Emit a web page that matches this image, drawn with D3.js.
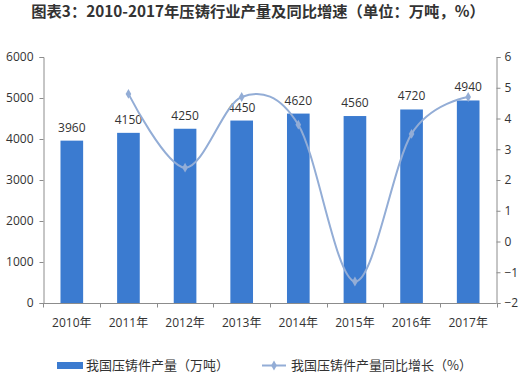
<!DOCTYPE html>
<html>
<head>
<meta charset="utf-8">
<script src="https://cdn.jsdelivr.net/npm/d3@7"></script>
<style>
  body { margin: 0; background: #fff; }
  svg text { font-family: "Open Sans", "Noto Sans CJK SC", sans-serif; fill: #333; }
</style>
</head>
<body>
<div id="chart"></div>
<script>
let years = ["2010年", "2011年", "2012年", "2013年", "2014年", "2015年", "2016年", "2017年"];
let output = [3960, 4150, 4250, 4450, 4620, 4560, 4720, 4940];
let growth = [null, 4.8, 2.4, 4.7, 3.8, -1.3, 3.5, 4.7];
let leftTicks = [0, 1000, 2000, 3000, 4000, 5000, 6000];
let rightTicks = [-2, -1, 0, 1, 2, 3, 4, 5, 6];

let width = 522, height = 377;
let plotLeft = 43.5, plotRight = 496.5, plotTop = 57, plotBottom = 303;
let barColor = "#3B7BD0";
let lineColor = "#93ADD6";
let axisColor = "#8c8c8c";

let svg = d3.select("#chart").append("svg")
    .attr("width", width)
    .attr("height", height);

svg.append("text")
    .attr("x", width / 2 - 3)
    .attr("y", 17)
    .attr("text-anchor", "middle")
    .style("font-size", "15.3px")
    .style("font-weight", "bold")
    .style("font-family", "'Noto Sans CJK SC', sans-serif")
    .text("图表3：2010-2017年压铸行业产量及同比增速（单位：万吨，%）");

let x = d3.scaleBand()
    .domain(years)
    .range([plotLeft, plotRight])
    .paddingInner(0.6)
    .paddingOuter(0.3);

let y = d3.scaleLinear().domain([0, 6000]).range([plotBottom, plotTop]);
let y2 = d3.scaleLinear().domain([-2, 6]).range([plotBottom, plotTop]);

// bars
svg.selectAll(".bar")
    .data(output)
    .enter().append("rect")
    .attr("class", "bar")
    .attr("x", (d, i) => x(years[i]))
    .attr("y", d => y(d))
    .attr("width", x.bandwidth())
    .attr("height", d => y(0) - y(d))
    .attr("fill", barColor);

svg.selectAll(".bar-label")
    .data(output)
    .enter().append("text")
    .attr("class", "bar-label")
    .attr("x", (d, i) => x(years[i]) + x.bandwidth() / 2)
    .attr("y", d => y(d) - 9)
    .attr("text-anchor", "middle")
    .style("font-size", "12px")
    .text(d => d);

// left axis
let leftAxis = svg.append("g")
    .attr("transform", "translate(" + plotLeft + ",0)")
    .call(d3.axisLeft(y).tickValues(leftTicks).tickFormat(d3.format("d")).tickSize(4).tickPadding(6));
leftAxis.selectAll("text").style("font-size", "12px");

// right axis
let rightAxis = svg.append("g")
    .attr("transform", "translate(" + plotRight + ",0)")
    .call(d3.axisRight(y2).tickValues(rightTicks).tickFormat(d3.format("d")).tickSize(4).tickPadding(4));
rightAxis.selectAll("text").style("font-size", "12px");

// bottom axis with ticks between categories
let bottomAxis = svg.append("g")
    .attr("transform", "translate(0," + (plotBottom + 0.5) + ")");
bottomAxis.append("line")
    .attr("x1", plotLeft).attr("x2", plotRight)
    .attr("stroke", axisColor);
let bounds = years.map(d => x(d) - x.step() * x.paddingInner() / 2).concat([plotRight]);
bottomAxis.selectAll(".xtick")
    .data(bounds)
    .enter().append("line")
    .attr("x1", d => Math.round(d) + 0.5).attr("x2", d => Math.round(d) + 0.5)
    .attr("y1", 0).attr("y2", 4)
    .attr("stroke", axisColor);
bottomAxis.selectAll(".xlabel")
    .data(years)
    .enter().append("text")
    .attr("x", d => x(d) + x.bandwidth() / 2)
    .attr("y", 23)
    .attr("text-anchor", "middle")
    .style("font-size", "12px")
    .text(d => d);

[leftAxis, rightAxis].forEach(a => {
    a.select(".domain").attr("stroke", axisColor);
    a.selectAll(".tick line").attr("stroke", axisColor);
    a.selectAll("text").style("fill", "#333");
});

// growth line
let pts = growth.map((d, i) => ({ year: years[i], v: d })).filter(d => d.v !== null);
let line = d3.line()
    .x(d => x(d.year) + x.bandwidth() / 2)
    .y(d => y2(d.v))
    .curve(d3.curveCardinal.tension(0));

svg.append("path")
    .datum(pts)
    .attr("d", line)
    .attr("fill", "none")
    .attr("stroke", lineColor)
    .attr("stroke-width", 2);

let diamond = d3.symbol().type(d3.symbolDiamond).size(28);
svg.selectAll(".marker")
    .data(pts)
    .enter().append("path")
    .attr("class", "marker")
    .attr("d", diamond)
    .attr("transform", d => "translate(" + (x(d.year) + x.bandwidth() / 2) + "," + y2(d.v) + ")")
    .attr("fill", lineColor);

// legend
let legend = svg.append("g");
legend.append("rect")
    .attr("x", 57).attr("y", 362)
    .attr("width", 26).attr("height", 7)
    .attr("fill", barColor);
legend.append("text")
    .attr("x", 86).attr("y", 370)
    .style("font-size", "13px")
    .style("font-family", "'Noto Sans CJK SC', sans-serif")
    .text("我国压铸件产量（万吨）");
legend.append("line")
    .attr("x1", 262).attr("x2", 286)
    .attr("y1", 365.5).attr("y2", 365.5)
    .attr("stroke", lineColor)
    .attr("stroke-width", 2);
legend.append("path")
    .attr("d", diamond)
    .attr("transform", "translate(274,365.5)")
    .attr("fill", lineColor);
legend.append("text")
    .attr("x", 291).attr("y", 370)
    .style("font-size", "13px")
    .style("font-family", "'Noto Sans CJK SC', sans-serif")
    .text("我国压铸件产量同比增长（%）");
</script>
</body>
</html>
